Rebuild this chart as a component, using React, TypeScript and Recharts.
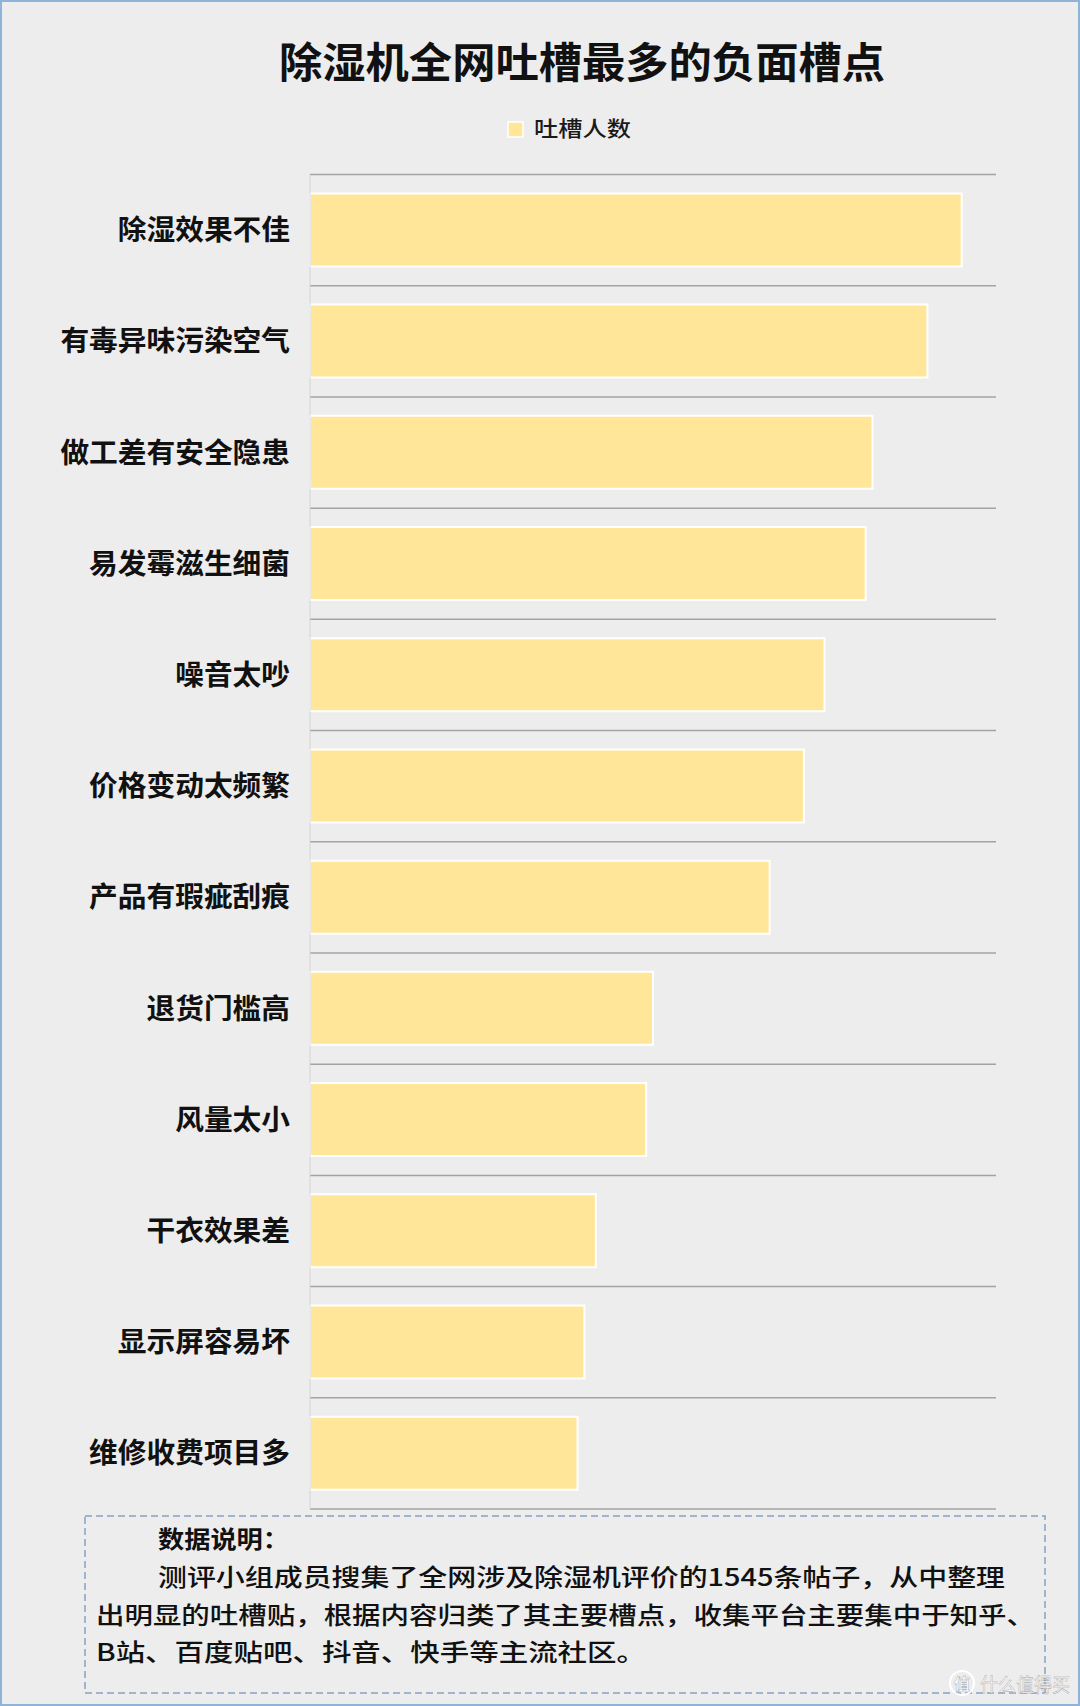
import React from 'react'
import { BarChart, Bar, XAxis, YAxis, CartesianGrid } from 'recharts'

const CATEGORIES = [
  '除湿效果不佳',
  '有毒异味污染空气',
  '做工差有安全隐患',
  '易发霉滋生细菌',
  '噪音太吵',
  '价格变动太频繁',
  '产品有瑕疵刮痕',
  '退货门槛高',
  '风量太小',
  '干衣效果差',
  '显示屏容易坏',
  '维修收费项目多',
]
const COUNTS = [285, 270, 246, 243, 225, 216, 201, 150, 147, 125, 120, 117]
const SERIES_NAME = '吐槽人数'
const TITLE = '除湿机全网吐槽最多的负面槽点'
const NOTE_HEAD = '数据说明：'
const NOTE_LINES = [
  '测评小组成员搜集了全网涉及除湿机评价的1545条帖子，从中整理',
  '出明显的吐槽贴，根据内容归类了其主要槽点，收集平台主要集中于知乎、',
  'B站、百度贴吧、抖音、快手等主流社区。',
]

const data = CATEGORIES.map((name, i) => ({ name, value: COUNTS[i] }))

const FONT = '"Noto Sans CJK SC", "Noto Sans", sans-serif'
const BAR_FILL = '#FFE699'

const CategoryTick = (props: any) => {
  const { x, y, payload } = props
  const label = String(payload.value)
  return (
    <text
      x={x}
      y={y}
      dy={10}
      textAnchor="end"
      fontFamily={FONT}
      fontSize={28}
      fontWeight={700}
      fill="#111"
      textLength={label.length * 28.7}
      lengthAdjust="spacingAndGlyphs"
    >
      {label}
    </text>
  )
}

// lines sit on the category boundaries, like Excel's category gridlines
const bandLines = ({ offset }: any) => {
  const n = CATEGORIES.length
  const out: number[] = []
  for (let i = 0; i <= n; i++) out.push(offset.top + (i * offset.height) / n)
  return out
}

const App = () => {
  return (
    <div
      style={{
        position: 'absolute',
        left: 0,
        top: 0,
        width: 1080,
        height: 1706,
        background: '#EDEDED',
        overflow: 'hidden',
      }}
    >
      <div style={{ position: 'absolute', left: 0, top: 0 }}>
        <BarChart
          width={1080}
          height={1706}
          layout="vertical"
          data={data}
          margin={{ top: 174.5, right: 84, bottom: 197, left: 0 }}
          barCategoryGap="17%"
        >
          <CartesianGrid
            vertical={false}
            stroke="#a3a3a3"
            strokeWidth={1.5}
            horizontalCoordinatesGenerator={bandLines}
          />
          <XAxis type="number" domain={[0, 300]} hide />
          <YAxis
            type="category"
            dataKey="name"
            width={310}
            interval={0}
            tickLine={false}
            tickMargin={14}
            axisLine={{ stroke: '#d4d4d4', strokeWidth: 1 }}
            tick={<CategoryTick />}
          />
          <Bar
            dataKey="value"
            name={SERIES_NAME}
            fill={BAR_FILL}
            stroke="#ffffff"
            strokeWidth={2}
            isAnimationActive={false}
          />
        </BarChart>
      </div>

      <svg
        width={1080}
        height={1706}
        style={{ position: 'absolute', left: 0, top: 0, pointerEvents: 'none' }}
      >
        <rect x={1} y={1} width={1078} height={1704} fill="none" stroke="#8fb4d9" strokeWidth={2} />

        <text
          x={279}
          y={78}
          fontFamily={FONT}
          fontSize={42}
          fontWeight={700}
          fill="#111"
          textLength={606}
          lengthAdjust="spacingAndGlyphs"
        >
          {TITLE}
        </text>

        <rect x={508} y={122} width={15} height={15} fill={BAR_FILL} stroke="#fff" strokeWidth={1.5} />
        <text
          x={534}
          y={136}
          fontFamily={FONT}
          fontSize={21}
          fontWeight={500}
          fill="#1a1a1a"
          textLength={97}
          lengthAdjust="spacingAndGlyphs"
        >
          {SERIES_NAME}
        </text>

        <rect
          x={85}
          y={1516}
          width={960}
          height={177}
          fill="none"
          stroke="#86a3c0"
          strokeWidth={1.5}
          strokeDasharray="7 4"
        />
        <text
          x={158}
          y={1548}
          fontFamily={FONT}
          fontSize={24}
          fontWeight={700}
          fill="#111"
          textLength={131}
          lengthAdjust="spacingAndGlyphs"
        >
          {NOTE_HEAD}
        </text>
        <text x={158} y={1586} fontFamily={FONT} fontSize={24} fontWeight={500} fill="#111" textLength={847} lengthAdjust="spacingAndGlyphs">
          {NOTE_LINES[0]}
        </text>
        <text x={96} y={1624} fontFamily={FONT} fontSize={24} fontWeight={500} fill="#111" textLength={939} lengthAdjust="spacingAndGlyphs">
          {NOTE_LINES[1]}
        </text>
        <text x={96} y={1661} fontFamily={FONT} fontSize={24} fontWeight={500} fill="#111" textLength={550} lengthAdjust="spacingAndGlyphs">
          {NOTE_LINES[2]}
        </text>

        <circle cx={962} cy={1683} r={12} fill="none" stroke="#ffffff" strokeWidth={2} />
        <text x={962} y={1690} textAnchor="middle" fontFamily={FONT} fontSize={16} fontWeight={700} fill="#ffffff" stroke="#9a9a9a" strokeWidth={0.4}>
          值
        </text>
        <text x={980} y={1692} fontFamily={FONT} fontSize={19} fill="#ffffff" stroke="#9a9a9a" strokeWidth={0.4} textLength={90} lengthAdjust="spacingAndGlyphs">
          什么值得买
        </text>
      </svg>
    </div>
  )
}

export default App
